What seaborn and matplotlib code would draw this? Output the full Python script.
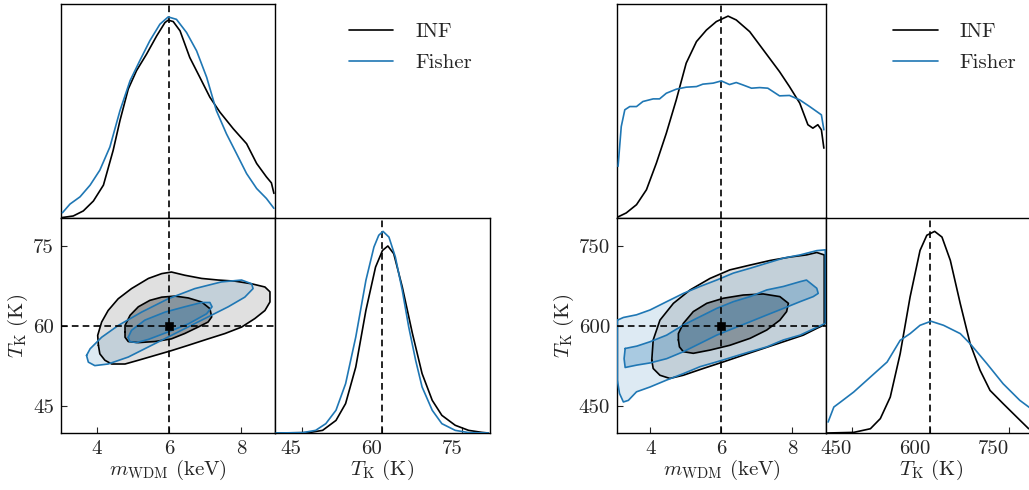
import numpy as np
import matplotlib
matplotlib.use("Agg")
import matplotlib.pyplot as plt
from matplotlib.lines import Line2D
import seaborn as sns

# ---------------- data ----------------
series_names = ["INF", "Fisher"]
fiducial_m = 6.0
fiducial_T_left = 60.0
fiducial_T_right = 600.0

m_ticks = [4, 6, 8]
T_ticks_left = [45, 60, 75]
T_ticks_right = [450, 600, 750]

# ---- left corner: 1D marginal of m_WDM ----
L_m_inf_x = [3.02, 3.34, 3.62, 3.90, 4.18, 4.45, 4.64, 4.87, 5.10, 5.38, 5.66, 5.89, 5.98, 6.12, 6.31, 6.58, 6.86, 7.14, 7.42, 7.79, 8.16, 8.44, 8.71, 8.85, 8.92]
L_m_inf_y = [0.002, 0.010, 0.035, 0.084, 0.163, 0.335, 0.483, 0.639, 0.730, 0.812, 0.902, 0.968, 0.980, 0.973, 0.927, 0.795, 0.697, 0.598, 0.524, 0.442, 0.368, 0.270, 0.204, 0.174, 0.122]
L_m_fis_x = [3.04, 3.25, 3.53, 3.81, 4.08, 4.36, 4.64, 4.92, 5.19, 5.47, 5.75, 5.98, 6.21, 6.49, 6.77, 7.05, 7.32, 7.60, 7.88, 8.16, 8.44, 8.71, 8.92]
L_m_fis_y = [0.026, 0.069, 0.105, 0.163, 0.237, 0.352, 0.532, 0.680, 0.779, 0.878, 0.960, 0.996, 0.984, 0.919, 0.828, 0.697, 0.532, 0.417, 0.319, 0.220, 0.146, 0.097, 0.048]

# ---- left corner: 1D marginal of T_K ----
L_T_inf_x = [40.2, 46.4, 48.9, 51.4, 53.2, 55.1, 57.0, 58.8, 60.1, 61.1, 62.2, 63.8, 65.7, 67.5, 69.4, 71.2, 73.7, 76.2, 78.7, 79.9]
L_T_inf_y = [0.0, 0.002, 0.013, 0.062, 0.145, 0.325, 0.605, 0.818, 0.900, 0.922, 0.884, 0.720, 0.490, 0.293, 0.161, 0.087, 0.038, 0.013, 0.003, 0.0]
L_T_fis_x = [40.2, 45.2, 47.6, 49.5, 51.4, 53.2, 55.1, 57.0, 58.5, 59.4, 60.2, 61.3, 62.5, 63.8, 65.0, 66.3, 67.5, 69.4, 71.2, 73.7, 76.2, 79.9]
L_T_fis_y = [0.0, 0.002, 0.013, 0.046, 0.112, 0.243, 0.473, 0.753, 0.917, 0.975, 0.994, 0.966, 0.868, 0.703, 0.523, 0.358, 0.227, 0.112, 0.046, 0.013, 0.002, 0.0]

# ---- left corner: 2D contours (m, T) ----
L_inf_out_m = [4.04, 4.02, 4.13, 4.31, 4.59, 4.96, 5.43, 5.80, 6.07, 6.44, 6.91, 7.37, 7.83, 8.30, 8.67, 8.81, 8.81, 8.67, 8.39, 8.02, 7.56, 7.09, 6.54, 6.07, 5.61, 5.15, 4.78, 4.41, 4.22, 4.08]
L_inf_out_T = [56.4, 58.25, 60.75, 62.9, 65.1, 67.0, 68.9, 69.8, 70.1, 69.5, 68.9, 68.6, 68.4, 67.9, 67.3, 66.4, 64.5, 62.9, 61.4, 59.8, 58.6, 57.6, 56.4, 55.4, 54.5, 53.6, 52.9, 52.9, 53.6, 54.8]
L_inf_in_m = [4.78, 4.78, 4.92, 5.15, 5.47, 5.80, 6.17, 6.54, 6.91, 7.14, 7.19, 7.09, 6.81, 6.44, 6.07, 5.61, 5.15, 4.87, 4.78]
L_inf_in_T = [58.9, 60.1, 62.0, 63.6, 64.8, 65.4, 65.6, 65.25, 64.5, 63.25, 61.7, 60.75, 59.8, 58.6, 57.6, 57.1, 56.9, 57.1, 57.9]
L_fis_out_m = [3.71, 3.81, 4.13, 4.59, 5.24, 5.98, 6.72, 7.46, 8.02, 8.30, 8.34, 8.11, 7.65, 7.00, 6.26, 5.52, 4.87, 4.31, 3.94, 3.76]
L_fis_out_T = [54.5, 55.75, 57.9, 60.1, 62.6, 65.1, 67.0, 68.25, 68.6, 67.9, 67.0, 65.4, 63.6, 61.4, 58.9, 56.4, 54.2, 52.9, 52.6, 53.25]
L_fis_in_m = [4.87, 4.96, 5.33, 5.89, 6.44, 6.91, 7.14, 7.20, 7.05, 6.54, 5.98, 5.43, 5.10, 4.91]
L_fis_in_T = [57.9, 59.2, 61.1, 62.6, 63.6, 64.4, 64.4, 63.6, 62.3, 60.4, 58.9, 57.5, 56.9, 57.1]

# ---- right corner: 1D marginal of m_WDM ----
R_m_inf_x = [3.06, 3.32, 3.61, 3.89, 4.17, 4.45, 4.73, 5.01, 5.30, 5.58, 5.86, 6.19, 6.42, 6.80, 7.08, 7.36, 7.64, 7.92, 8.21, 8.44, 8.58, 8.72, 8.82, 8.89]
R_m_inf_y = [0.003, 0.025, 0.066, 0.140, 0.272, 0.420, 0.585, 0.767, 0.874, 0.931, 0.973, 1.0, 0.981, 0.923, 0.857, 0.791, 0.725, 0.651, 0.569, 0.462, 0.445, 0.462, 0.437, 0.346]
R_m_fis_x = [3.09, 3.18, 3.28, 3.42, 3.61, 3.79, 4.08, 4.26, 4.45, 4.73, 5.01, 5.30, 5.48, 5.77, 6.00, 6.23, 6.42, 6.61, 6.85, 7.08, 7.31, 7.64, 7.92, 8.21, 8.49, 8.82, 8.89]
R_m_fis_y = [0.256, 0.453, 0.536, 0.552, 0.552, 0.577, 0.590, 0.590, 0.618, 0.638, 0.648, 0.651, 0.663, 0.668, 0.679, 0.661, 0.671, 0.659, 0.643, 0.646, 0.643, 0.605, 0.607, 0.585, 0.552, 0.511, 0.437]

# ---- right corner: 1D marginal of T_K ----
R_T_inf_x = [402, 453, 485, 504, 523, 542, 561, 580, 593, 608, 622, 638, 657, 676, 695, 714, 739, 765, 788]
R_T_inf_y = [0.0, 0.003, 0.021, 0.071, 0.177, 0.391, 0.671, 0.900, 0.975, 0.994, 0.966, 0.851, 0.638, 0.440, 0.309, 0.210, 0.145, 0.079, 0.021]
R_T_fis_x = [404, 415, 428, 453, 485, 517, 542, 561, 580, 601, 625, 657, 676, 708, 739, 771, 795]
R_T_fis_y = [0.054, 0.128, 0.153, 0.202, 0.276, 0.350, 0.457, 0.490, 0.531, 0.551, 0.531, 0.490, 0.440, 0.342, 0.243, 0.161, 0.115]

# ---- right corner: 2D contours (m, T) ----
R_inf_out_m = [4.04, 4.08, 4.27, 4.65, 5.12, 5.68, 6.24, 6.81, 7.37, 7.93, 8.40, 8.69, 8.90, 8.90, 8.90, 8.69, 8.31, 7.75, 7.18, 6.62, 6.06, 5.49, 4.93, 4.55, 4.27, 4.08]
R_inf_out_T = [536, 574, 611, 642.5, 667.5, 689, 705, 714, 722.5, 729, 733, 737.5, 733, 667.5, 602, 595.6, 583, 570.6, 558, 545.6, 533, 520.6, 508, 502, 508, 520.6]
R_inf_in_m = [4.79, 4.79, 4.93, 5.21, 5.59, 6.06, 6.62, 7.18, 7.65, 7.89, 7.84, 7.65, 7.28, 6.81, 6.24, 5.68, 5.21, 4.93, 4.82]
R_inf_in_T = [574, 586, 605, 627, 642.5, 652, 658, 660, 655, 642.5, 627, 611, 592.5, 577, 564, 555, 549, 552, 561]
R_fis_out_m = [3.07, 3.24, 3.61, 3.99, 4.46, 4.93, 5.40, 5.87, 6.34, 6.81, 7.28, 7.75, 8.22, 8.69, 8.93, 8.93, 8.69, 8.22, 7.75, 7.28, 6.81, 6.34, 5.87, 5.40, 4.93, 4.46, 3.99, 3.61, 3.38, 3.24, 3.13, 3.07]
R_fis_out_T = [611, 616, 621, 630, 645.6, 661, 674, 686, 699, 708, 717.5, 727, 733, 741, 742.5, 605, 597.5, 583, 574, 561, 552, 542.5, 533, 524, 511, 499, 486, 477, 461, 458, 474, 499]
R_fis_in_m = [3.29, 3.62, 3.99, 4.46, 4.93, 5.40, 5.87, 6.34, 6.81, 7.28, 7.75, 8.22, 8.40, 8.69, 8.73, 8.59, 8.22, 7.75, 7.28, 6.81, 6.34, 5.87, 5.40, 4.93, 4.46, 3.99, 3.62, 3.29, 3.26]
R_fis_in_T = [558, 562.5, 570.6, 583, 602, 617.5, 633, 645.6, 655, 667.5, 674, 683, 686, 670.6, 661, 655, 645.6, 633, 620.6, 608, 595.6, 583, 567.5, 552, 539, 531, 527, 522.5, 539]

# ---------------- styling ----------------
sns.set_style("ticks")
plt.rcParams.update({
    "font.family": ["cmr10", "DejaVu Serif"],
    "mathtext.fontset": "cm",
    "axes.formatter.use_mathtext": True,
    "font.size": 15,
    "axes.linewidth": 1.0,
    "axes.edgecolor": "black",
})

BLUE = "#1f77b4"
FS = 15
W, H = 1029, 490
fig = plt.figure(figsize=(W / 100, H / 100), dpi=100)


def add_ax(x0, y0, x1, y1):
    return fig.add_axes([x0 / W, 1 - y1 / H, (x1 - x0) / W, (y1 - y0) / H])


def style(ax):
    for s in ax.spines.values():
        s.set_visible(True)
        s.set_color("black")
        s.set_linewidth(1.0)
    ax.tick_params(direction="in", length=4, width=0.8, labelsize=FS, pad=5)


def line(ax, x, y, color, z=3):
    sns.lineplot(x=x, y=y, ax=ax, color=color, lw=1.2, sort=False, estimator=None,
                 legend=False, zorder=z)


def draw_corner(xoff, wm, wt, xlim_m, ylim_T, fid_T, T_ticks,
                m_inf, m_fis, T_inf, T_fis,
                inf_out, inf_in, fis_out, fis_in, leg_dx):
    top = add_ax(xoff, 4, xoff + wm, 218)
    joint = add_ax(xoff, 218, xoff + wm, 433)
    tmar = add_ax(xoff + wm, 218, xoff + wm + wt, 433)
    leg = add_ax(xoff + wm, 4, xoff + wm + wt, 218)
    for ax in (top, joint, tmar):
        style(ax)

    ymax = 1.06
    # top marginal
    line(top, m_inf[0], m_inf[1], "black")
    line(top, m_fis[0], m_fis[1], BLUE)
    top.axvline(fiducial_m, color="black", ls="--", lw=1.2, dashes=(4, 2.5))
    top.set_xlim(*xlim_m)
    top.set_ylim(0, ymax)
    top.set_xticks([])
    top.set_yticks([])
    top.set_xlabel("")
    top.set_ylabel("")

    # T marginal
    line(tmar, T_inf[0], T_inf[1], "black")
    line(tmar, T_fis[0], T_fis[1], BLUE)
    tmar.axvline(fid_T, color="black", ls="--", lw=1.2, dashes=(4, 2.5))
    tmar.set_xlim(*ylim_T)
    tmar.set_ylim(0, ymax)
    tmar.set_yticks([])
    tmar.set_xticks(T_ticks)
    tmar.set_xticklabels([str(t) for t in T_ticks], ha="right")
    tmar.set_xlabel(r"$T_{\rm K}$ (K)", fontsize=FS, labelpad=0)
    tmar.set_ylabel("")

    # joint contours
    joint.fill(inf_out[0], inf_out[1], color="#e0e0e0", lw=0, zorder=1)
    joint.fill(inf_in[0], inf_in[1], color="#9b9b9b", lw=0, zorder=2)
    joint.fill(fis_out[0], fis_out[1], color=BLUE, alpha=0.15, lw=0, zorder=3)
    joint.fill(fis_in[0], fis_in[1], color=BLUE, alpha=0.27, lw=0, zorder=4)
    for poly, col in ((inf_out, "black"), (inf_in, "black"), (fis_out, BLUE), (fis_in, BLUE)):
        xs = list(poly[0]) + [poly[0][0]]
        ys = list(poly[1]) + [poly[1][0]]
        line(joint, xs, ys, col, z=5)
    joint.axvline(fiducial_m, color="black", ls="--", lw=1.2, dashes=(4, 2.5), zorder=6)
    joint.axhline(fid_T, color="black", ls="--", lw=1.2, dashes=(4, 2.5), zorder=6)
    sns.scatterplot(x=[fiducial_m], y=[fid_T], ax=joint, color="black", marker="s", s=30,
                    edgecolor="black", zorder=7, legend=False)
    joint.set_xlim(*xlim_m)
    joint.set_ylim(*ylim_T)
    joint.set_xticks(m_ticks)
    joint.set_xticklabels([str(t) for t in m_ticks])
    joint.set_yticks(T_ticks)
    joint.set_yticklabels([str(t) for t in T_ticks])
    joint.set_xlabel(r"$m_{\rm WDM}$ (keV)", fontsize=FS, labelpad=0)
    joint.set_ylabel(r"$T_{\rm K}$ (K)", fontsize=FS, labelpad=2)

    # legend axis
    leg.axis("off")
    handles = [Line2D([], [], color="black", lw=1.2), Line2D([], [], color=BLUE, lw=1.2)]
    leg.legend(handles, series_names, loc="upper left", bbox_to_anchor=(leg_dx, 1.0),
               frameon=False, fontsize=FS, handlelength=2.15, labelspacing=0.6,
               handletextpad=1.05)


draw_corner(61, 214, 215, (3.0, 8.95), (40, 80.2), fiducial_T_left, T_ticks_left,
            (L_m_inf_x, L_m_inf_y), (L_m_fis_x, L_m_fis_y),
            (L_T_inf_x, L_T_inf_y), (L_T_fis_x, L_T_fis_y),
            (L_inf_out_m, L_inf_out_T), (L_inf_in_m, L_inf_in_T),
            (L_fis_out_m, L_fis_out_T), (L_fis_in_m, L_fis_in_T), 0.255)

draw_corner(617, 209, 210, (3.06, 8.95), (400, 802), fiducial_T_right, T_ticks_right,
            (R_m_inf_x, R_m_inf_y), (R_m_fis_x, R_m_fis_y),
            (R_T_inf_x, R_T_inf_y), (R_T_fis_x, R_T_fis_y),
            (R_inf_out_m, R_inf_out_T), (R_inf_in_m, R_inf_in_T),
            (R_fis_out_m, R_fis_out_T), (R_fis_in_m, R_fis_in_T), 0.23)

fig.savefig("out.png", dpi=100)
